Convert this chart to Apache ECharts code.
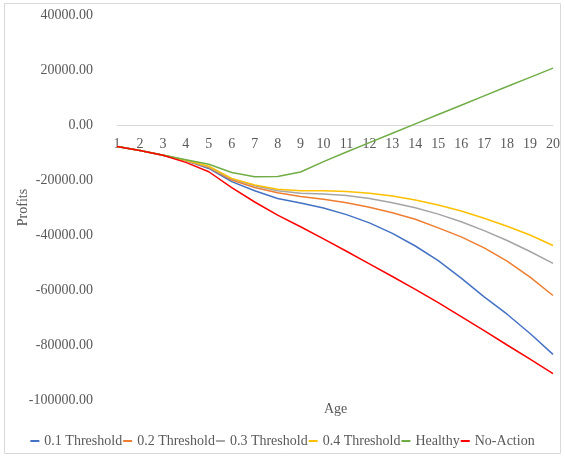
<!DOCTYPE html>
<html>
<head>
<meta charset="utf-8">
<title>Profits by Age</title>
<script src="https://cdn.jsdelivr.net/npm/echarts@6/dist/echarts.min.js"></script>
<style>
  html, body { margin: 0; padding: 0; background: #ffffff; }
  #chart { width: 565px; height: 457px; }
</style>
</head>
<body>
<div id="chart"></div>
<script>
// Age categories on the x axis
const ages = ['1','2','3','4','5','6','7','8','9','10','11','12','13','14','15','16','17','18','19','20'];

// Profit per age for each strategy
const threshold01 = [-7800,-9300,-11000,-12900,-15800,-20600,-23900,-26700,-28400,-30200,-32600,-35600,-39400,-44000,-49300,-55700,-62500,-68800,-75800,-83400];
const threshold02 = [-7800,-9300,-11000,-12900,-15500,-20000,-22700,-24600,-26000,-27000,-28300,-29900,-31900,-34300,-37400,-40700,-44700,-49500,-55300,-62000];
const threshold03 = [-7800,-9300,-11000,-12800,-15300,-19600,-22100,-23900,-24800,-25100,-25600,-26700,-28300,-30100,-32400,-35200,-38400,-42000,-46000,-50300];
const threshold04 = [-7800,-9300,-11000,-12800,-15000,-19400,-21800,-23400,-23900,-23900,-24200,-24800,-25800,-27300,-29100,-31300,-33900,-36800,-40000,-43800];
const healthy     = [-7800,-9300,-10900,-12600,-14300,-17300,-18800,-18700,-17100,-13300,-9800,-6400,-3000,400,3800,7200,10600,14000,17300,20700];
const noAction    = [-7800,-9300,-11000,-13600,-17000,-22800,-28000,-32800,-37000,-41400,-45900,-50500,-55100,-59800,-64600,-69700,-74800,-80000,-85100,-90400];

const seriesNames = ['0.1 Threshold','0.2 Threshold','0.3 Threshold','0.4 Threshold','Healthy','No-Action'];
const seriesData = [threshold01, threshold02, threshold03, threshold04, healthy, noAction];
const seriesColors = ['#4472C4','#ED7D31','#A5A5A5','#FFC000','#70AD47','#FF0000'];

// y-axis range
const Y_MIN = -100000;
const Y_MAX = 40000;
const Y_STEP = 20000;

const FONT = '"Liberation Serif", "Times New Roman", serif';
const TEXT = '#595959';

const GRID_TOP = 15;
const GRID_BOTTOM = 57;
const CHART_H = 457;
const plotH = CHART_H - GRID_TOP - GRID_BOTTOM;
// lift the category axis (line and labels) up to the zero value
const zeroOffset = -plotH * (0 - Y_MIN) / (Y_MAX - Y_MIN);

const chart = echarts.init(document.getElementById('chart'), null, { renderer: 'canvas' });

chart.setOption({
  animation: false,
  backgroundColor: '#ffffff',
  textStyle: { fontFamily: FONT },
  graphic: [
    {
      type: 'rect',
      shape: { x: 4.5, y: 3.5, width: 556, height: 450 },
      style: { fill: 'none', stroke: '#D9D9D9', lineWidth: 1 },
      silent: true,
      z: -1
    },
    {
      type: 'text',
      left: 324,
      top: 402,
      style: { text: 'Age', fill: TEXT, font: '14px ' + FONT }
    }
  ],
  grid: {
    left: 117, right: 12, top: GRID_TOP, bottom: GRID_BOTTOM,
    containLabel: false,
    outerBoundsMode: 'none'
  },
  legend: {
    data: seriesNames,
    top: 429,
    left: 'center',
    icon: 'rect',
    itemWidth: 9,
    itemHeight: 2,
    itemGap: 1,
    textStyle: { color: TEXT, fontSize: 14, fontFamily: FONT }
  },
  xAxis: {
    type: 'category',
    data: ages,
    boundaryGap: false,
    position: 'bottom',
    offset: zeroOffset,
    axisLine: { onZero: false, lineStyle: { color: '#D9D9D9', width: 1 } },
    axisTick: { show: false },
    axisLabel: { color: TEXT, fontSize: 14, fontFamily: FONT, margin: 12, interval: 0 },
    splitLine: { show: false }
  },
  yAxis: {
    type: 'value',
    min: Y_MIN,
    max: Y_MAX,
    interval: Y_STEP,
    name: 'Profits',
    nameLocation: 'middle',
    nameGap: 87,
    nameRotate: 90,
    nameMoveOverlap: false,
    nameTextStyle: { color: TEXT, fontSize: 14, fontFamily: FONT },
    axisLine: { show: false },
    axisTick: { show: false },
    splitLine: { show: false },
    axisLabel: {
      color: TEXT,
      fontSize: 14,
      fontFamily: FONT,
      margin: 24,
      formatter: v => v.toFixed(2)
    }
  },
  series: seriesData.map((d, i) => ({
    name: seriesNames[i],
    type: 'line',
    data: d,
    showSymbol: false,
    symbol: 'none',
    smooth: false,
    color: seriesColors[i],
    lineStyle: { color: seriesColors[i], width: 1.5 }
  }))
});
</script>
</body>
</html>
